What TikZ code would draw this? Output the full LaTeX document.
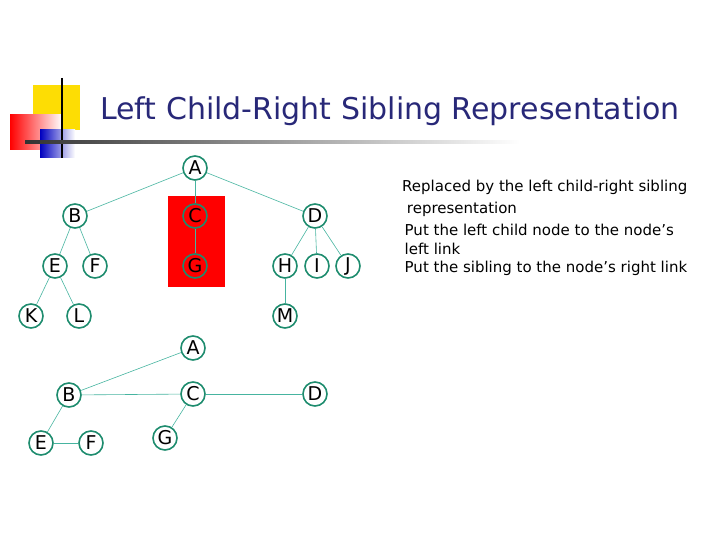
\documentclass[tikz,border=0pt]{standalone}
\usepackage{fontspec}
\setmainfont{DejaVu Sans}
\usetikzlibrary{positioning,calc}
\definecolor{navy}{RGB}{40,40,120}
\definecolor{ring}{RGB}{30,140,110}
\definecolor{edge}{RGB}{70,180,160}
\tikzset{
	vertex/.style={circle, draw=ring, line width=1.6pt, minimum size=24pt, inner sep=0pt, font=\fontsize{19}{19}\selectfont},
	link/.style={draw=edge, line width=0.6pt}
}

\begin{document}
\begin{tikzpicture}[x=1pt, y=-1pt]
	\useasboundingbox (0,0) rectangle (720,540);
	% slide decoration
	\fill[yellow!80!orange] (33,85) rectangle (80,130);
	\shade[left color=red, right color=white] (10,115) rectangle (62,150);
	\shade[left color=blue!75!black, right color=white] (40,130) rectangle (75,158);
	\draw[line width=1.5pt] (62,78) -- (62,158);
	\shade[left color=black!80, right color=white] (25,141) rectangle (520,143.5);
	\node[anchor=base west, text=navy, font=\fontsize{30}{30}\selectfont, inner sep=0pt] (title) at (100,120) {Left Child-Right Sibling Representation};

	% original tree
	\fill[red] (168,196) rectangle (225,287);
	\begin{scope}
		\node[vertex] (a) at (195,168) {A};
		\node[vertex] (b) at (75,216) {B};
		\node[vertex] (c) at (195,216) {C};
		\node[vertex] (d) at (315,216) {D};
		\node[vertex] (e) at (55,266) {E};
		\node[vertex] (f) at (95,266) {F};
		\node[vertex] (g) at (195,266) {G};
		\node[vertex] (h) at (285,266) {H};
		\node[vertex] (i) at (317,266) {I};
		\node[vertex] (j) at (348,266) {J};
		\node[vertex] (k) at (31,316) {K};
		\node[vertex] (l) at (79,316) {L};
		\node[vertex] (m) at (285,316) {M};

		\draw[link] (a) -- (b);
		\draw[link] (a) -- (c);
		\draw[link] (a) -- (d);
		\draw[link] (b) -- (e);
		\draw[link] (b) -- (f);
		\draw[link] (c) -- (g);
		\draw[link] (d) -- (h);
		\draw[link] (d) -- (i);
		\draw[link] (d) -- (j);
		\draw[link] (e) -- (k);
		\draw[link] (e) -- (l);
		\draw[link] (h) -- (m);
	\end{scope}

	% left child-right sibling tree
	\begin{scope}
		\node[vertex] (a2) at (193,348) {A};
		\node[vertex] (b2) at (69,395) {B};
		\node[vertex] (c2) at (193,394) {C};
		\node[vertex] (d2) at (315,394) {D};
		\node[vertex] (e2) at (41,443) {E};
		\node[vertex] (f2) at (91,443) {F};
		\node[vertex] (g2) at (165,438) {G};

		\draw[link] (a2) -- (b2);
		\draw[link] (b2) -- (c2);
		\draw[link] (c2) -- (d2);
		\draw[link] (b2) -- (e2);
		\draw[link] (e2) -- (f2);
		\draw[link] (c2) -- (g2);
	\end{scope}

	\node[anchor=north west, align=left, inner sep=0pt, font=\fontsize{15}{22}\selectfont] (notes) at (402,180)
		{Replaced by the left child-right sibling\\
		\ representation\\
		\,Put the left child node to the node’s\\[-3pt]
		\,left link\\[-4pt]
		\,Put the sibling to the node’s right link};
\end{tikzpicture}
\end{document}
